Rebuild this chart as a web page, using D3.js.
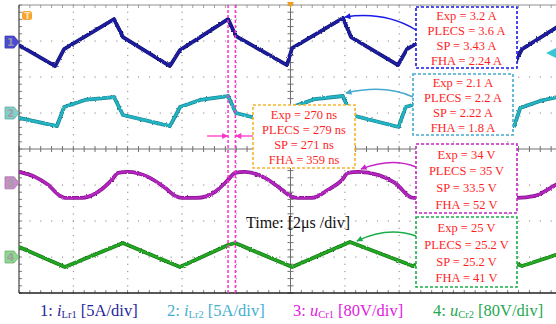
<!DOCTYPE html>
<html>
<head>
<meta charset="utf-8">
<script src="https://cdn.jsdelivr.net/npm/d3@7"></script>
<style>
  body { margin: 0; background: #fff; }
  svg { display: block; font-family: "Liberation Serif", "DejaVu Serif", serif; }
</style>
</head>
<body>
<div id="scope"></div>
<script>
// waveform keypoints: [time in us, value]
const iLr1 = [[-10, -0.42], [-8.67, -3.33], [-8.34, -0.97], [-6.5, 3.19], [-6.17, 0.69], [-4.44, -3.33],
  [-4.07, -1.11], [-2.3, 3.19], [-2.01, 0.83], [-0.13, -3.19], [0.06, -0.83], [1.93, 3.33], [2.23, 0.69],
  [3.96, -3.19], [4.29, -0.97], [6.13, 3.19], [6.43, 0.69], [8.2, -3.33], [8.53, -0.97], [10, 2.5]];
const iLr2 = [[-10, -0.69], [-8.6, -1.81], [-8.34, 0.83], [-7.57, 1.81], [-6.5, 2.22], [-6.17, -0.28],
  [-4.44, -1.81], [-4.07, 0.83], [-3.33, 1.81], [-2.3, 2.36], [-2.01, 0], [-0.13, -1.81], [0.06, 0.83],
  [0.9, 1.94], [1.93, 2.36], [2.23, -0.28], [3.98, -1.94], [4.24, 0.83], [5.13, 1.81], [6.13, 2.22],
  [6.43, -0.28], [8.24, -1.81], [8.46, 0.69], [9.19, 1.67], [10, 2.36]];
const uCr1 = [[-10, 24.4], [-9.41, 13.3], [-8.93, -4.4], [-8.49, -28.9], [-8.31, -33.3], [-7.68, -33.3],
  [-7.09, -20], [-6.58, 6.7], [-6.35, 22.2], [-5.99, 24.4], [-5.25, 13.3], [-4.62, -11.1], [-4.25, -28.9],
  [-4.0, -33.3], [-3.44, -33.3], [-2.78, -20], [-2.3, 6.7], [-2.04, 22.2], [-1.68, 24.4], [-0.94, 11.1],
  [-0.31, -15.6], [0.06, -31.1], [0.28, -33.3], [0.79, -33.3], [1.38, -15.6], [1.9, 6.7], [2.12, 22.2],
  [2.49, 24.4], [3.22, 17.8], [3.85, 0], [4.51, -33.3], [5.07, -33.3], [5.69, -15.6], [6.24, 13.3],
  [6.68, 24.4], [7.35, 13.3], [8.01, -20], [8.34, -33.3], [9.0, -28.9], [9.78, -4.4], [10, 2.2]];
const uCr2 = [[-10, 22.2], [-8.31, -22.2], [-6.17, 31.1], [-4.07, -22.2], [-2.3, 26.7], [-2.04, 31.1],
  [0.06, -22.2], [2.19, 33.3], [4.51, -20], [6.43, 31.1], [8.53, -20], [10, 8.9]];

// channel setup: offset in divisions, units per division
const chNames = ["1", "2", "3", "4"];
const chOffsets = [2.97, 1.0, -0.94, -3.0];
const chPerDiv = [5, 5, 80, 80];
const chColors = ["#1c1ca0", "#22b4c4", "#b423c0", "#22a822"];
const chMarkerFill = ["#4a4ad6", "#80d0cc", "#cc8ccc", "#8cd88c"];

const legendLabels = [["1: ", "i", "Lr1", " [5A/div]"], ["2: ", "i", "Lr2", " [5A/div]"],
  ["3: ", "u", "Cr1", " [80V/div]"], ["4: ", "u", "Cr2", " [80V/div]"]];
const legendColors = ["#26269a", "#45aed0", "#e020e0", "#1ea850"];

// cursor times (us)
const cursorT = [-2.3, -2.03];

const boxLines = [
  ["Exp = 3.2 A", "PLECS = 3.6 A", "SP = 3.43 A", "FHA = 2.24 A"],
  ["Exp = 2.1 A", "PLECS = 2.2 A", "SP = 2.22 A", "FHA = 1.8 A"],
  ["Exp = 270 ns", "PLECS = 279 ns", "SP = 271 ns", "FHA = 359 ns"],
  ["Exp = 34 V", "PLECS = 35 V", "SP = 33.5 V", "FHA = 52 V"],
  ["Exp = 25 V", "PLECS = 25.2 V", "SP = 25.2 V", "FHA = 41 V"]
];

const width = 556, height = 324;
const plot = { left: 19, right: 562, top: 5, bottom: 293 };

const svg = d3.select('#scope')
  .append('svg')
  .attr('width', width)
  .attr('height', height);

const x = d3.scaleLinear().domain([-10, 10]).range([plot.left, plot.right]);
const y = d3.scaleLinear().domain([-4, 4]).range([plot.bottom, plot.top]);

const defs = svg.append('defs');
const noise = defs.append('filter').attr('id', 'noisy')
  .attr('filterUnits', 'userSpaceOnUse')
  .attr('x', 0).attr('y', 0).attr('width', width).attr('height', height);
noise.append('feTurbulence').attr('type', 'fractalNoise')
  .attr('baseFrequency', 0.8).attr('numOctaves', 1).attr('seed', 3).attr('result', 'n');
noise.append('feDisplacementMap').attr('in', 'SourceGraphic').attr('in2', 'n')
  .attr('scale', 2.6).attr('xChannelSelector', 'R').attr('yChannelSelector', 'G');

function arrowHead(id, color) {
  defs.append('marker')
    .attr('id', id)
    .attr('viewBox', '0 0 10 10')
    .attr('refX', 9).attr('refY', 5)
    .attr('markerWidth', 7).attr('markerHeight', 6)
    .attr('markerUnits', 'userSpaceOnUse')
    .attr('orient', 'auto')
    .append('path')
    .attr('d', 'M0,0 L10,5 L0,10 Z')
    .attr('fill', color);
}

// graticule
const grid = svg.append('g');
const xDivs = d3.range(-10, 10.01, 2);
const yDivs = d3.range(-4, 4.01, 1);
const minorX = d3.range(-10, 10.01, 0.4);
const minorY = d3.range(-4, 4.01, 0.2);

xDivs.filter(d => d !== 0 && d !== -10).forEach(d => {
  grid.selectAll(null)
    .data(minorY)
    .join('rect')
    .attr('x', x(d) - 0.5).attr('y', v => y(v) - 0.5)
    .attr('width', 1.2).attr('height', 1.2)
    .attr('fill', '#9a9a9a');
});
yDivs.filter(d => d !== 0 && Math.abs(d) !== 4).forEach(d => {
  grid.selectAll(null)
    .data(minorX)
    .join('rect')
    .attr('x', v => x(v) - 0.5).attr('y', y(d) - 0.5)
    .attr('width', 1.2).attr('height', 1.2)
    .attr('fill', '#9a9a9a');
});

// centre cross with minor ticks
grid.append('line')
  .attr('x1', plot.left).attr('x2', width).attr('y1', y(0)).attr('y2', y(0))
  .attr('stroke', '#707070').attr('stroke-width', 1);
grid.append('line')
  .attr('x1', x(0)).attr('x2', x(0)).attr('y1', plot.top).attr('y2', plot.bottom)
  .attr('stroke', '#707070').attr('stroke-width', 1);
grid.selectAll(null)
  .data(minorX)
  .join('line')
  .attr('x1', d => x(d)).attr('x2', d => x(d))
  .attr('y1', y(0) - 3).attr('y2', y(0) + 3)
  .attr('stroke', '#707070');
grid.selectAll(null)
  .data(minorY)
  .join('line')
  .attr('x1', x(0) - 3).attr('x2', x(0) + 3)
  .attr('y1', d => y(d)).attr('y2', d => y(d))
  .attr('stroke', '#707070');

// border ticks
grid.selectAll(null)
  .data(minorY)
  .join('line')
  .attr('x1', plot.left).attr('x2', plot.left + 3)
  .attr('y1', d => y(d)).attr('y2', d => y(d))
  .attr('stroke', '#808080');
grid.selectAll(null)
  .data(minorX)
  .join('line')
  .attr('x1', d => x(d)).attr('x2', d => x(d))
  .attr('y1', plot.bottom).attr('y2', plot.bottom - 3)
  .attr('stroke', '#808080');
grid.selectAll(null)
  .data(minorX)
  .join('line')
  .attr('x1', d => x(d)).attr('x2', d => x(d))
  .attr('y1', plot.top).attr('y2', plot.top + 3)
  .attr('stroke', '#a0a0a0');

grid.append('line')
  .attr('x1', plot.left).attr('x2', width).attr('y1', plot.top).attr('y2', plot.top)
  .attr('stroke', '#909090').attr('stroke-width', 1);
grid.append('line')
  .attr('x1', plot.left).attr('x2', plot.left).attr('y1', plot.top).attr('y2', plot.bottom)
  .attr('stroke', '#404040').attr('stroke-width', 1.2);
grid.append('line')
  .attr('x1', plot.left).attr('x2', width).attr('y1', plot.bottom).attr('y2', plot.bottom)
  .attr('stroke', '#202020').attr('stroke-width', 1.6);

// traces
const series = [iLr1, iLr2, uCr1, uCr2];
const curves = [d3.curveLinear, d3.curveLinear, d3.curveMonotoneX, d3.curveLinear];

svg.append('clipPath').attr('id', 'plotClip')
  .append('rect')
  .attr('x', plot.left).attr('y', plot.top)
  .attr('width', width - plot.left).attr('height', plot.bottom - plot.top);

const traces = svg.append('g').attr('clip-path', 'url(#plotClip)');
series.forEach((data, i) => {
  const line = d3.line()
    .x(d => x(d[0]))
    .y(d => y(chOffsets[i] + d[1] / chPerDiv[i]))
    .curve(curves[i]);
  traces.append('path')
    .attr('d', line(data))
    .attr('fill', 'none')
    .attr('stroke', d3.color(chColors[i]).darker(0.9))
    .attr('stroke-width', 3.8)
    .attr('stroke-linejoin', 'round')
    .attr('filter', 'url(#noisy)');
  traces.append('path')
    .attr('d', line(data))
    .attr('fill', 'none')
    .attr('stroke', chColors[i])
    .attr('stroke-width', 2.4)
    .attr('stroke-linejoin', 'round');
});

// channel ground markers
chNames.forEach((name, i) => {
  const cy = y(chOffsets[i]);
  const g = svg.append('g');
  g.append('path')
    .attr('d', `M5,${cy - 6} L14,${cy - 6} L19,${cy} L14,${cy + 6} L5,${cy + 6} Z`)
    .attr('fill', chMarkerFill[i])
    .attr('stroke', d3.color(chMarkerFill[i]).darker(0.6))
    .attr('stroke-width', 0.8);
  g.append('text')
    .attr('x', 10.5).attr('y', cy + 4)
    .attr('text-anchor', 'middle')
    .attr('font-family', 'DejaVu Sans, sans-serif')
    .attr('font-size', 11).attr('font-weight', 'bold')
    .attr('fill', i === 0 ? '#9090a0' : '#a0a0a0')
    .text(name);
});

// trigger markers
svg.append('rect')
  .attr('x', 22).attr('y', 11).attr('width', 10).attr('height', 9).attr('rx', 2.5)
  .attr('fill', '#f7a531');
svg.append('text')
  .attr('x', 27.5).attr('y', 19)
  .attr('text-anchor', 'middle')
  .attr('font-family', 'DejaVu Sans, sans-serif')
  .attr('font-size', 9).attr('font-weight', 'bold')
  .attr('fill', '#fde0b0')
  .text('T');
svg.append('path')
  .attr('d', `M${x(0) - 3.5},2 L${x(0) + 3.5},2 L${x(0)},8 Z`)
  .attr('fill', '#f39c1e');

// cursors
const pink = '#ff33cc';
arrowHead('pinkHead', pink);
cursorT.forEach(t => {
  svg.append('line')
    .attr('x1', x(t)).attr('x2', x(t))
    .attr('y1', plot.top).attr('y2', plot.bottom)
    .attr('stroke', pink).attr('stroke-width', 1.5)
    .attr('stroke-dasharray', '3,2');
});
svg.append('line')
  .attr('x1', x(cursorT[0]) - 21).attr('x2', x(cursorT[0]) - 0.5)
  .attr('y1', 136).attr('y2', 136)
  .attr('stroke', pink).attr('stroke-width', 1.3)
  .attr('marker-end', 'url(#pinkHead)');
svg.append('line')
  .attr('x1', 253).attr('x2', x(cursorT[1]) + 0.5)
  .attr('y1', 136).attr('y2', 136)
  .attr('stroke', pink).attr('stroke-width', 1.3)
  .attr('marker-end', 'url(#pinkHead)');

// annotation boxes
const boxes = [
  { x0: 416, y0: 7, x1: 517, y1: 68, color: '#1a1ae6', arrow: 'M416,30 Q385,11 345,17' },
  { x0: 413, y0: 74, x1: 513, y1: 135, color: '#45a9cf', arrow: 'M413,97 Q385,84 346,93' },
  { x0: 253, y0: 105, x1: 355, y1: 168, color: '#f7b52b', arrow: null },
  { x0: 416, y0: 144, x1: 517, y1: 213, color: '#c624c6', arrow: 'M416,167 Q392,157 361,169' },
  { x0: 416, y0: 217, x1: 517, y1: 287, color: '#1aae4a', arrow: 'M416,236 Q388,226 357,241' }
];

boxes.forEach((b, i) => {
  if (b.arrow) {
    arrowHead('head' + i, b.color);
    svg.append('path')
      .attr('d', b.arrow)
      .attr('fill', 'none')
      .attr('stroke', b.color).attr('stroke-width', 1.4)
      .attr('marker-end', `url(#head${i})`);
  }
  svg.append('rect')
    .attr('x', b.x0).attr('y', b.y0)
    .attr('width', b.x1 - b.x0).attr('height', b.y1 - b.y0)
    .attr('fill', '#fff')
    .attr('stroke', b.color).attr('stroke-width', 1.6)
    .attr('stroke-dasharray', '3,2');
  const step = (b.y1 - b.y0) / 4.15;
  svg.selectAll(null)
    .data(boxLines[i])
    .join('text')
    .attr('x', (b.x0 + b.x1) / 2)
    .attr('y', (d, k) => b.y0 + step * (k + 0.62))
    .attr('dy', '0.35em')
    .attr('text-anchor', 'middle')
    .attr('font-size', 12.5)
    .attr('fill', '#ff1f1f')
    .text(d => d);
});

// cut-off cyan arrow at the right edge
svg.append('path')
  .attr('d', 'M546,53 L556,48 L556,58 Z')
  .attr('fill', '#37c6d6');

// time base
svg.append('text')
  .attr('x', 246).attr('y', 228)
  .attr('font-size', 16)
  .attr('fill', '#111')
  .text('Time: [2μs /div]');

// legend
const legendX = [40, 167, 293, 433];
legendLabels.forEach((l, i) => {
  const t = svg.append('text')
    .attr('x', legendX[i]).attr('y', 316)
    .attr('font-size', 16.5)
    .attr('fill', legendColors[i]);
  t.append('tspan').text(l[0]);
  t.append('tspan').attr('font-style', 'italic').text(l[1]);
  t.append('tspan').attr('font-size', 10.5).attr('dy', 2).text(l[2]);
  t.append('tspan').attr('dy', -2).text(l[3]);
});
</script>
</body>
</html>
